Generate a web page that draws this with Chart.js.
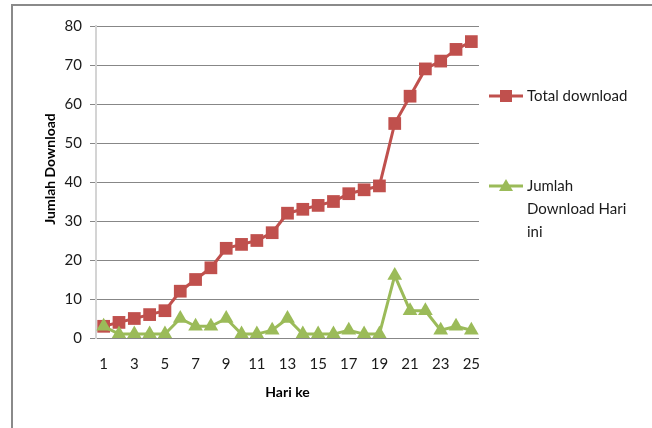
<!DOCTYPE html>
<html>
<head>
<meta charset="utf-8">
<script src="https://cdn.jsdelivr.net/npm/chart.js@4/dist/chart.umd.min.js"></script>
<style>
  html, body { margin: 0; padding: 0; background: #fff; }
  #wrap { width: 652px; height: 428px; position: relative; }
</style>
</head>
<body>
<div id="wrap"><canvas id="c" width="652" height="428"></canvas></div>
<script>
const days = [1,2,3,4,5,6,7,8,9,10,11,12,13,14,15,16,17,18,19,20,21,22,23,24,25];
const totalDownload = [3,4,5,6,7,12,15,18,23,24,25,27,32,33,34,35,37,38,39,55,62,69,71,74,76];
const dailyDownload = [3,1,1,1,1,5,3,3,5,1,1,2,5,1,1,1,2,1,1,16,7,7,2,3,2];
const seriesNames = ['Total download', ['Jumlah', 'Download Hari', 'ini']];
const yTitle = 'Jumlah Download';
const xTitle = 'Hari ke';

const RED = '#C0504D';
const GREEN = '#9BBB59';
const FONT = 'Lato, "Open Sans", sans-serif';

const framePlugin = {
  id: 'frame',
  beforeDraw(chart) {
    const ctx = chart.ctx;
    ctx.save();
    ctx.strokeStyle = '#8a8a8a';
    ctx.lineWidth = 2;
    ctx.beginPath();
    ctx.moveTo(12, 428);
    ctx.lineTo(12, 5);
    ctx.lineTo(652, 5);
    ctx.stroke();
    ctx.restore();
  },
  afterDraw(chart) {
    const ctx = chart.ctx;
    ctx.save();
    ctx.fillStyle = '#000';
    ctx.font = 'bold 14px ' + FONT;
    ctx.textAlign = 'center';
    ctx.textBaseline = 'middle';
    ctx.translate(50, 169);
    ctx.rotate(-Math.PI / 2);
    ctx.fillText(yTitle, 0, 0);
    ctx.restore();

    const ds = chart.data.datasets;
    const items = [
      {d: ds[0], y: 96},
      {d: ds[1], y: 186}
    ];
    ctx.save();
    items.forEach(it => {
      const col = it.d.borderColor;
      ctx.strokeStyle = col;
      ctx.fillStyle = col;
      ctx.lineWidth = 3;
      ctx.beginPath();
      ctx.moveTo(489, it.y);
      ctx.lineTo(523, it.y);
      ctx.stroke();
      if (it.d.pointStyle === 'rect') {
        ctx.fillRect(506 - 6, it.y - 6, 12, 12);
      } else {
        ctx.beginPath();
        ctx.moveTo(506, it.y - 7);
        ctx.lineTo(506 + 7, it.y + 5);
        ctx.lineTo(506 - 7, it.y + 5);
        ctx.closePath();
        ctx.fill();
      }
      ctx.fillStyle = '#1a1a1a';
      ctx.font = '15px ' + FONT;
      ctx.textAlign = 'left';
      ctx.textBaseline = 'middle';
      const lines = Array.isArray(it.d.label) ? it.d.label : [it.d.label];
      lines.forEach((t, i) => ctx.fillText(t, 527, it.y + i * 23));
    });
    ctx.restore();
  }
};

new Chart(document.getElementById('c'), {
  type: 'line',
  data: {
    labels: days,
    datasets: [
      {
        label: seriesNames[0],
        data: totalDownload,
        borderColor: RED,
        backgroundColor: RED,
        borderWidth: 3,
        pointStyle: 'rect',
        pointRadius: 9,
        pointBorderWidth: 0,
        pointBackgroundColor: RED,
        tension: 0,
        order: 1
      },
      {
        label: seriesNames[1],
        data: dailyDownload,
        borderColor: GREEN,
        backgroundColor: GREEN,
        borderWidth: 3,
        pointStyle: 'triangle',
        pointRadius: 8.5,
        pointBorderWidth: 0,
        pointBackgroundColor: GREEN,
        tension: 0,
        order: 0
      }
    ]
  },
  options: {
    responsive: false,
    animation: false,
    devicePixelRatio: 1,
    layout: { padding: { left: 0, top: 26, right: 173, bottom: 27 } },
    plugins: { legend: { display: false }, tooltip: { enabled: false } },
    scales: {
      x: {
        type: 'category',
        offset: true,
        afterFit: (s) => { s.height = 63; },
        grid: { display: false, drawTicks: false },
        border: { display: false },
        ticks: {
          autoSkip: false,
          maxRotation: 0,
          padding: 17,
          color: '#1a1a1a',
          font: { family: FONT, size: 15 },
          callback: (v, i) => (i % 2 === 0 ? String(days[i]) : '')
        },
        title: {
          display: true,
          text: xTitle,
          color: '#000',
          font: { family: FONT, size: 14, weight: 'bold' },
          padding: { top: 12, bottom: 0 }
        }
      },
      y: {
        min: 0,
        max: 80,
        afterFit: (s) => { s.width = 96; },
        grid: { color: '#878787', lineWidth: 1, tickLength: 6, drawTicks: true },
        border: { display: true, color: '#d4d4d4', width: 2 },
        ticks: {
          stepSize: 10,
          padding: 8,
          color: '#1a1a1a',
          font: { family: FONT, size: 15 }
        }
      }
    }
  },
  plugins: [framePlugin]
});
</script>
</body>
</html>
